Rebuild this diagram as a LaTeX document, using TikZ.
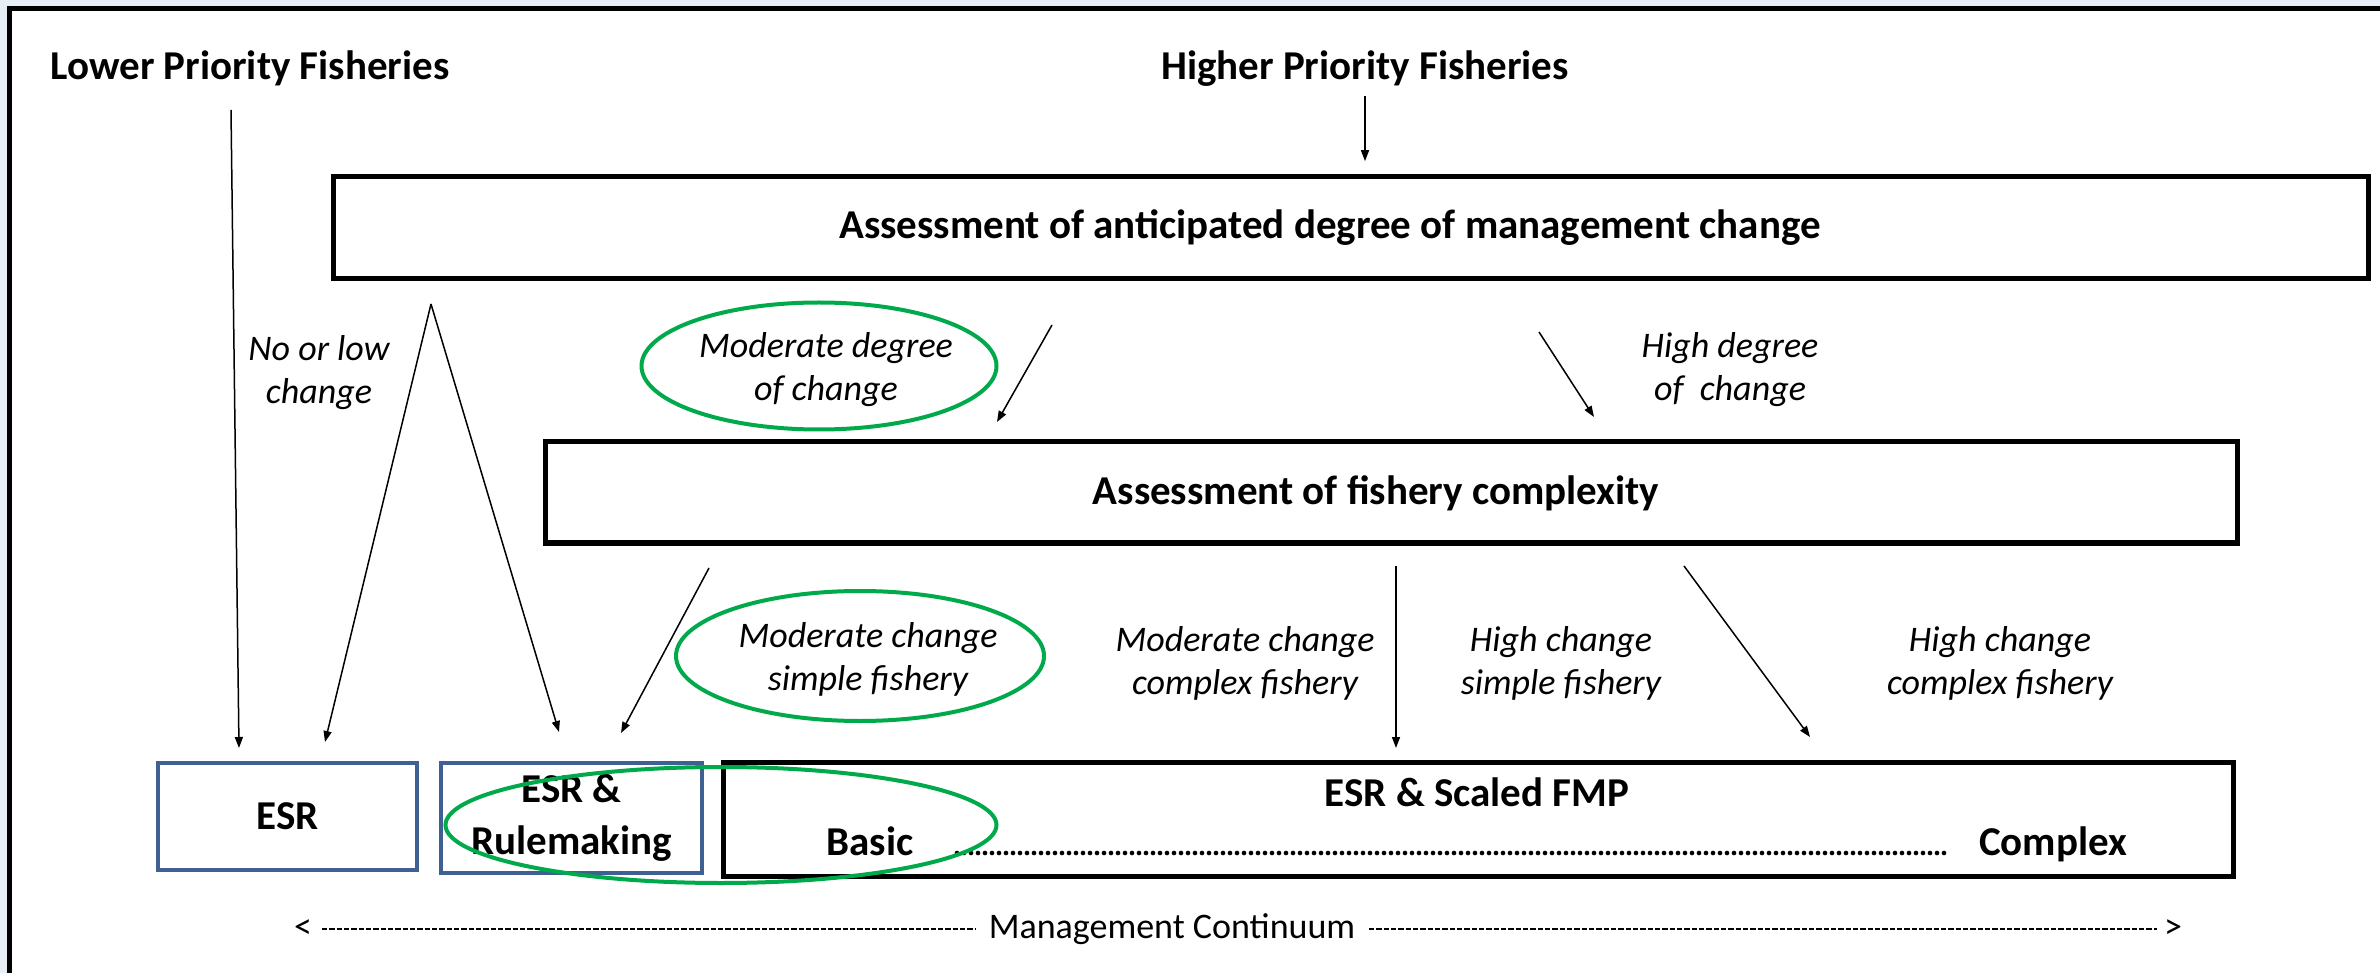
\documentclass[tikz,border=0pt]{standalone}
\usepackage{fontspec}
\setmainfont{Carlito}
\usetikzlibrary{arrows.meta,shapes.geometric}
\definecolor{boxblue}{RGB}{62,96,146}
\definecolor{ringgreen}{RGB}{0,170,75}
\definecolor{bgblue}{RGB}{232,238,246}
\newcommand{\bigf}{\fontsize{12.3}{15.6}\selectfont}
\newcommand{\smallf}{\fontsize{10.8}{12.9}\selectfont}
\begin{document}
\begin{tikzpicture}[x=0.3pt,y=-0.3pt,
  bigbox/.style={draw=black,line width=1.5pt,inner sep=0pt},
  bluebox/.style={draw=boxblue,line width=1.35pt,inner sep=0pt,font=\bfseries\bigf,align=center},
  head/.style={font=\bfseries\bigf,inner sep=0pt,anchor=base},
  lbl/.style={font=\itshape\smallf,align=center,inner sep=0pt},
  plain/.style={font=\smallf,inner sep=0pt,anchor=base},
  ring/.style={draw=ringgreen,line width=1.2pt,ellipse,inner sep=0pt},
  arr/.style={-{Triangle[length=3.3pt,width=2.4pt]},line width=0.45pt},
  contdash/.style={line width=0.6pt,dash pattern=on 1.6pt off 0.6pt},
  dotrow/.style={line width=1.4pt,line cap=round,dash pattern=on 0pt off 2.1pt},
]
\useasboundingbox (0,0) rectangle (2380,973);
\fill[bgblue] (0,0) rectangle (2380,973);
\fill[white] (9.5,8.5) rectangle (2380,973);
\draw[line width=1.5pt] (2380,8.5) -- (9.5,8.5) -- (9.5,973);

% headings
\node[head] (lower) at (250,80) {Lower Priority Fisheries};
\node[head] (higher) at (1365,80) {Higher Priority Fisheries};

% assessment boxes
\node[bigbox,minimum width=2035*0.3pt,minimum height=102*0.3pt] (mgmt) at (1350.5,228) {};
\node[head] (mgmtt) at (1330,239) {Assessment of anticipated degree of management change};
\node[bigbox,minimum width=1692*0.3pt,minimum height=101*0.3pt] (cplx) at (1391,492.5) {};
\node[head] (cplxt) at (1376,504) {Assessment of fishery complexity};

% outcome boxes
\node[bluebox,minimum width=259*0.3pt,minimum height=107*0.3pt,text height=7.9pt,text depth=0pt] (esr) at (287.5,816.5) {ESR};
\node[bluebox,minimum width=261*0.3pt,minimum height=110*0.3pt] (esrr) at (571.5,818) {ESR \&\\Rulemaking};
\node[bigbox,minimum width=1510*0.3pt,minimum height=114*0.3pt] (fmp) at (1478,819) {};
\node[head] (fmpt) at (1477,806) {ESR \& Scaled FMP};
\node[head] (basic) at (870,855) {Basic};
\node[head] (complex) at (2053,855) {Complex};
\coordinate (dotS) at (957,853);
\coordinate (dotE) at (1949,853);
\draw[dotrow] (dotS) -- (dotE);

% green rings
\node[ring,minimum width=355*0.3pt,minimum height=127*0.3pt] (ring1) at (819,366) {};
\node[ring,minimum width=368*0.3pt,minimum height=130*0.3pt] (ring2) at (860,656) {};
\node[ring,minimum width=551*0.3pt,minimum height=116*0.3pt] (ring3) at (721,825) {};

% labels
\node[lbl] (nolow) at (319,372.5) {No or low\\change};
\node[lbl] (moddeg) at (826,369.5) {Moderate degree\\of change};
\node[lbl] (highdeg) at (1730,369.5) {High degree\\of\ \ change};
\node[lbl] (modsimple) at (868,659.5) {Moderate change\\simple fishery};
\node[lbl] (modcomplex) at (1245,663) {Moderate change\\complex fishery};
\node[lbl] (highsimple) at (1561,663) {High change\\simple fishery};
\node[lbl] (highcomplex) at (2000,663) {High change\\complex fishery};

% connectors
\draw[arr,shorten <=2.4pt,shorten >=4pt] (higher.south) -- (higher.south |- mgmt.north);
\coordinate (lowS) at (231,110);   \coordinate (lowE) at (239,748);
\coordinate (apex) at (431,304);   \coordinate (apexL) at (325,742);
\coordinate (apexR) at (559,732);
\coordinate (modS) at (1052,325);  \coordinate (modE) at (997,422);
\coordinate (hiS) at (1539,332);   \coordinate (hiE) at (1594,417);
\coordinate (msS) at (709,568);    \coordinate (msE) at (621,733);
\coordinate (mcS) at (1396,566);   \coordinate (mcE) at (1396,748);
\coordinate (hcS) at (1684,566);   \coordinate (hcE) at (1810,737);
\draw[arr] (lowS) -- (lowE);
\draw[arr] (apex) -- (apexL);
\draw[arr] (apex) -- (apexR);
\draw[arr] (modS) -- (modE);
\draw[arr] (hiS) -- (hiE);
\draw[arr] (msS) -- (msE);
\draw[arr] (mcS) -- (mcE);
\draw[arr] (hcS) -- (hcE);

% management continuum
\node[plain] (lt) at (303,938) {<};
\node[plain] (cont) at (1172,938) {Management Continuum};
\node[plain] (gt) at (2173,938) {>};
\coordinate (c1S) at (322,929);  \coordinate (c1E) at (975,929);
\coordinate (c2S) at (1369,929); \coordinate (c2E) at (2157,929);
\draw[contdash] (c1S) -- (c1E);
\draw[contdash] (c2S) -- (c2E);
\end{tikzpicture}
\end{document}
